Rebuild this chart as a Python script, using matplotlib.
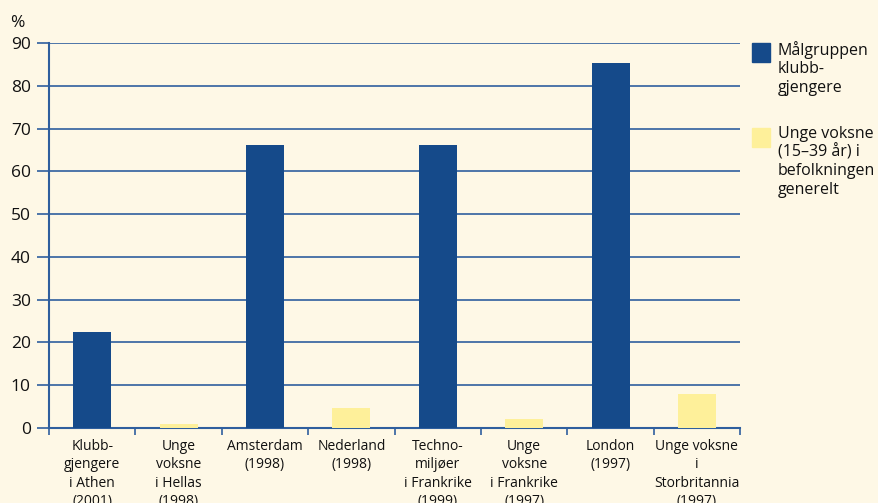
import numpy as np
import matplotlib
matplotlib.use("Agg")
import matplotlib.pyplot as plt
import matplotlib.patches as mpatches

plt.rcParams['font.family'] = ['Open Sans', 'DejaVu Sans']

labels = ['Klubb-\ngjengere\ni Athen\n(2001)', 'Unge\nvoksne\ni Hellas\n(1998)',
          'Amsterdam\n(1998)', 'Nederland\n(1998)', 'Techno-\nmiljøer\ni Frankrike\n(1999)',
          'Unge\nvoksne\ni Frankrike\n(1997)', 'London\n(1997)',
          'Unge voksne\ni\nStorbritannia\n(1997)']
values = [22.4, 0.9, 66.1, 4.7, 66.1, 2.0, 85.4, 7.9]
is_target = [True, False, True, False, True, False, True, False]
yticks = list(range(0, 100, 10))

blue = '#154a8a'
yellow = '#fef09a'
bg = '#fef8e6'
line = '#2f5f9e'

fig = plt.figure(figsize=(8.79, 5.03), dpi=100, facecolor=bg)
ax = fig.add_axes([0.0557, 0.149, 0.7863, 0.7655], facecolor=bg)

x = np.arange(len(values)) + 0.5
colors = [blue if t else yellow for t in is_target]
ax.bar(x, values, width=0.44, color=colors, zorder=3)

ax.set_xlim(0, len(values))
ax.set_ylim(0, 90)
ax.set_yticks(yticks)
ax.set_yticklabels([str(v) for v in yticks], fontsize=12.5, color='#111111')
ax.yaxis.grid(True, color=line, linewidth=1.2, zorder=1)
ax.tick_params(axis='y', length=9, width=1.2, color=line, pad=4)

ax.set_xticks(x)
ax.set_xticklabels(labels, fontsize=10, color='#111111', linespacing=1.3)
ax.set_xticks(np.arange(len(values) + 1), minor=True)
ax.tick_params(axis='x', which='major', length=0, pad=8)
ax.tick_params(axis='x', which='minor', length=5, width=1.2, color=line, direction='out')

for s in ['top', 'right']:
    ax.spines[s].set_visible(False)
for s in ['left', 'bottom']:
    ax.spines[s].set_color(line)
    ax.spines[s].set_linewidth(1.5)

fig.text(0.012, 0.955, '%', fontsize=12.5, color='#111111', va='center')

# legend
fig.patches.append(mpatches.Rectangle((752 / 879, 1 - 62 / 503), 18 / 879, 19 / 503,
                                      transform=fig.transFigure, color=blue))
fig.text(778 / 879, 1 - 41 / 503, 'Målgruppen\nklubb-\ngjengere', fontsize=11.5,
         va='top', color='#111111', linespacing=1.2)
fig.patches.append(mpatches.Rectangle((752 / 879, 1 - 147 / 503), 18 / 879, 19 / 503,
                                      transform=fig.transFigure, color=yellow))
fig.text(778 / 879, 1 - 126 / 503, 'Unge voksne\n(15–39 år) i\nbefolkningen\ngenerelt',
         fontsize=11.5, va='top', color='#111111', linespacing=1.2)

plt.savefig('out.png', dpi=100, facecolor=bg)
